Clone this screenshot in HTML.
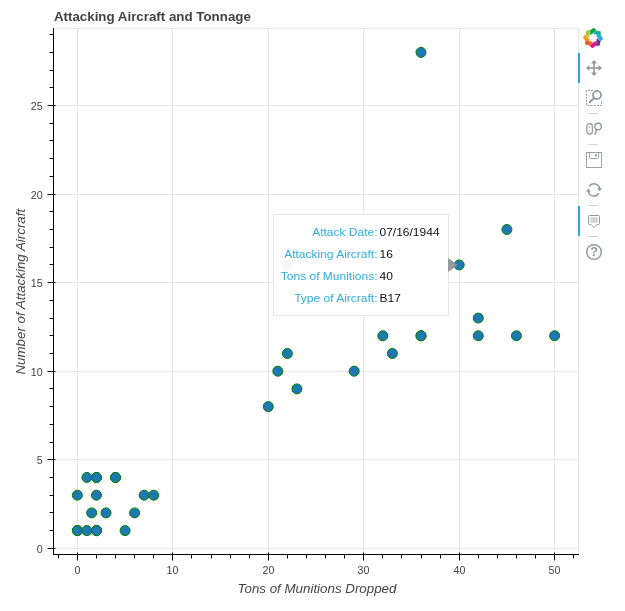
<!DOCTYPE html>
<html><head><meta charset="utf-8"><title>Attacking Aircraft and Tonnage</title>
<style>
html,body{margin:0;padding:0;background:#fff;}
body{width:625px;height:611px;position:relative;overflow:hidden;font-family:"Liberation Sans",Arial,sans-serif;}
svg{position:absolute;left:0;top:0;}
svg text{font-family:"Liberation Sans",Arial,sans-serif;}
.tt{position:absolute;left:273px;top:214px;width:174px;height:100px;border:1px solid #e5e5e5;background:#fff;opacity:.95;font-size:12px;color:#000;}
.tt .r{position:absolute;left:0;height:14px;line-height:14px;white-space:nowrap;transform:scale(1,0.89);transform-origin:0 3px;}
.tt .l{position:absolute;right:70.5px;color:#26aae1;text-align:right;white-space:nowrap;}
.tt .v{position:absolute;left:105.5px;white-space:nowrap;}
.tt:after{content:"";position:absolute;left:174px;top:43px;width:0;height:0;border-style:solid;border-width:7px 0 7px 10px;border-color:transparent transparent transparent #909599;}
</style></head><body>
<svg width="625" height="611" viewBox="0 0 625 611">

<rect x="53.5" y="28.5" width="525.0" height="526.0" fill="#fff" stroke="#e5e5e5" stroke-width="1"/>
<line x1="77.50" y1="28.5" x2="77.50" y2="554.5" stroke="#e5e5e5"/>
<line x1="172.50" y1="28.5" x2="172.50" y2="554.5" stroke="#e5e5e5"/>
<line x1="268.50" y1="28.5" x2="268.50" y2="554.5" stroke="#e5e5e5"/>
<line x1="363.50" y1="28.5" x2="363.50" y2="554.5" stroke="#e5e5e5"/>
<line x1="459.50" y1="28.5" x2="459.50" y2="554.5" stroke="#e5e5e5"/>
<line x1="554.50" y1="28.5" x2="554.50" y2="554.5" stroke="#e5e5e5"/>
<line x1="53.5" y1="548.50" x2="578.5" y2="548.50" stroke="#e5e5e5"/>
<line x1="53.5" y1="459.50" x2="578.5" y2="459.50" stroke="#e5e5e5"/>
<line x1="53.5" y1="371.50" x2="578.5" y2="371.50" stroke="#e5e5e5"/>
<line x1="53.5" y1="282.50" x2="578.5" y2="282.50" stroke="#e5e5e5"/>
<line x1="53.5" y1="194.50" x2="578.5" y2="194.50" stroke="#e5e5e5"/>
<line x1="53.5" y1="105.50" x2="578.5" y2="105.50" stroke="#e5e5e5"/>
<line x1="53.5" y1="28.0" x2="53.5" y2="555.0" stroke="#000"/>
<line x1="53.0" y1="554.5" x2="579.0" y2="554.5" stroke="#000"/>
<line x1="58.50" y1="554.5" x2="58.50" y2="558.5" stroke="#000"/>
<line x1="77.50" y1="552.5" x2="77.50" y2="560.5" stroke="#000"/>
<text x="77.50" y="573.6" font-size="10.67" fill="#444" text-anchor="middle">0</text>
<line x1="96.50" y1="554.5" x2="96.50" y2="558.5" stroke="#000"/>
<line x1="115.50" y1="554.5" x2="115.50" y2="558.5" stroke="#000"/>
<line x1="134.50" y1="554.5" x2="134.50" y2="558.5" stroke="#000"/>
<line x1="153.50" y1="554.5" x2="153.50" y2="558.5" stroke="#000"/>
<line x1="172.50" y1="552.5" x2="172.50" y2="560.5" stroke="#000"/>
<text x="172.50" y="573.6" font-size="10.67" fill="#444" text-anchor="middle">10</text>
<line x1="191.50" y1="554.5" x2="191.50" y2="558.5" stroke="#000"/>
<line x1="211.50" y1="554.5" x2="211.50" y2="558.5" stroke="#000"/>
<line x1="230.50" y1="554.5" x2="230.50" y2="558.5" stroke="#000"/>
<line x1="249.50" y1="554.5" x2="249.50" y2="558.5" stroke="#000"/>
<line x1="268.50" y1="552.5" x2="268.50" y2="560.5" stroke="#000"/>
<text x="268.50" y="573.6" font-size="10.67" fill="#444" text-anchor="middle">20</text>
<line x1="287.50" y1="554.5" x2="287.50" y2="558.5" stroke="#000"/>
<line x1="306.50" y1="554.5" x2="306.50" y2="558.5" stroke="#000"/>
<line x1="325.50" y1="554.5" x2="325.50" y2="558.5" stroke="#000"/>
<line x1="344.50" y1="554.5" x2="344.50" y2="558.5" stroke="#000"/>
<line x1="363.50" y1="552.5" x2="363.50" y2="560.5" stroke="#000"/>
<text x="363.50" y="573.6" font-size="10.67" fill="#444" text-anchor="middle">30</text>
<line x1="382.50" y1="554.5" x2="382.50" y2="558.5" stroke="#000"/>
<line x1="401.50" y1="554.5" x2="401.50" y2="558.5" stroke="#000"/>
<line x1="421.50" y1="554.5" x2="421.50" y2="558.5" stroke="#000"/>
<line x1="440.50" y1="554.5" x2="440.50" y2="558.5" stroke="#000"/>
<line x1="459.50" y1="552.5" x2="459.50" y2="560.5" stroke="#000"/>
<text x="459.50" y="573.6" font-size="10.67" fill="#444" text-anchor="middle">40</text>
<line x1="478.50" y1="554.5" x2="478.50" y2="558.5" stroke="#000"/>
<line x1="497.50" y1="554.5" x2="497.50" y2="558.5" stroke="#000"/>
<line x1="516.50" y1="554.5" x2="516.50" y2="558.5" stroke="#000"/>
<line x1="535.50" y1="554.5" x2="535.50" y2="558.5" stroke="#000"/>
<line x1="554.50" y1="552.5" x2="554.50" y2="560.5" stroke="#000"/>
<text x="554.50" y="573.6" font-size="10.67" fill="#444" text-anchor="middle">50</text>
<line x1="573.50" y1="554.5" x2="573.50" y2="558.5" stroke="#000"/>
<line x1="47.5" y1="548.50" x2="55.5" y2="548.50" stroke="#000"/>
<text x="42.6" y="553.10" font-size="10.67" fill="#444" text-anchor="end">0</text>
<line x1="49.5" y1="530.50" x2="53.5" y2="530.50" stroke="#000"/>
<line x1="49.5" y1="512.50" x2="53.5" y2="512.50" stroke="#000"/>
<line x1="49.5" y1="495.50" x2="53.5" y2="495.50" stroke="#000"/>
<line x1="49.5" y1="477.50" x2="53.5" y2="477.50" stroke="#000"/>
<line x1="47.5" y1="459.50" x2="55.5" y2="459.50" stroke="#000"/>
<text x="42.6" y="464.10" font-size="10.67" fill="#444" text-anchor="end">5</text>
<line x1="49.5" y1="442.50" x2="53.5" y2="442.50" stroke="#000"/>
<line x1="49.5" y1="424.50" x2="53.5" y2="424.50" stroke="#000"/>
<line x1="49.5" y1="406.50" x2="53.5" y2="406.50" stroke="#000"/>
<line x1="49.5" y1="388.50" x2="53.5" y2="388.50" stroke="#000"/>
<line x1="47.5" y1="371.50" x2="55.5" y2="371.50" stroke="#000"/>
<text x="42.6" y="376.10" font-size="10.67" fill="#444" text-anchor="end">10</text>
<line x1="49.5" y1="353.50" x2="53.5" y2="353.50" stroke="#000"/>
<line x1="49.5" y1="335.50" x2="53.5" y2="335.50" stroke="#000"/>
<line x1="49.5" y1="318.50" x2="53.5" y2="318.50" stroke="#000"/>
<line x1="49.5" y1="300.50" x2="53.5" y2="300.50" stroke="#000"/>
<line x1="47.5" y1="282.50" x2="55.5" y2="282.50" stroke="#000"/>
<text x="42.6" y="287.10" font-size="10.67" fill="#444" text-anchor="end">15</text>
<line x1="49.5" y1="264.50" x2="53.5" y2="264.50" stroke="#000"/>
<line x1="49.5" y1="247.50" x2="53.5" y2="247.50" stroke="#000"/>
<line x1="49.5" y1="229.50" x2="53.5" y2="229.50" stroke="#000"/>
<line x1="49.5" y1="211.50" x2="53.5" y2="211.50" stroke="#000"/>
<line x1="47.5" y1="194.50" x2="55.5" y2="194.50" stroke="#000"/>
<text x="42.6" y="199.10" font-size="10.67" fill="#444" text-anchor="end">20</text>
<line x1="49.5" y1="176.50" x2="53.5" y2="176.50" stroke="#000"/>
<line x1="49.5" y1="158.50" x2="53.5" y2="158.50" stroke="#000"/>
<line x1="49.5" y1="140.50" x2="53.5" y2="140.50" stroke="#000"/>
<line x1="49.5" y1="123.50" x2="53.5" y2="123.50" stroke="#000"/>
<line x1="47.5" y1="105.50" x2="55.5" y2="105.50" stroke="#000"/>
<text x="42.6" y="110.10" font-size="10.67" fill="#444" text-anchor="end">25</text>
<line x1="49.5" y1="87.50" x2="53.5" y2="87.50" stroke="#000"/>
<line x1="49.5" y1="70.50" x2="53.5" y2="70.50" stroke="#000"/>
<line x1="49.5" y1="52.50" x2="53.5" y2="52.50" stroke="#000"/>
<line x1="49.5" y1="34.50" x2="53.5" y2="34.50" stroke="#000"/>
<text x="53.9" y="21" font-size="13.33" font-weight="bold" fill="#444">Attacking Aircraft and Tonnage</text>
<text x="317" y="592.6" font-size="13.33" font-style="italic" fill="#444" text-anchor="middle">Tons of Munitions Dropped</text>
<text transform="translate(25.3,291.7) rotate(-90)" font-size="13.33" font-style="italic" fill="#444" text-anchor="middle">Number of Attacking Aircraft</text>
<circle cx="77.36" cy="530.59" r="5" fill="#1f77b4" stroke="#008000" stroke-width="1"/>
<circle cx="77.36" cy="530.59" r="5" fill="#1f77b4" stroke="#008000" stroke-width="1"/>
<circle cx="86.91" cy="530.59" r="5" fill="#1f77b4" stroke="#008000" stroke-width="1"/>
<circle cx="96.45" cy="530.59" r="5" fill="#1f77b4" stroke="#008000" stroke-width="1"/>
<circle cx="96.45" cy="530.59" r="5" fill="#1f77b4" stroke="#008000" stroke-width="1"/>
<circle cx="96.45" cy="530.59" r="5" fill="#1f77b4" stroke="#008000" stroke-width="1"/>
<circle cx="96.45" cy="477.46" r="5" fill="#1f77b4" stroke="#008000" stroke-width="1"/>
<circle cx="115.55" cy="477.46" r="5" fill="#1f77b4" stroke="#008000" stroke-width="1"/>
<circle cx="421.00" cy="335.78" r="5" fill="#1f77b4" stroke="#008000" stroke-width="1"/>
<circle cx="125.09" cy="530.59" r="5" fill="#1f77b4" stroke="#008000" stroke-width="1"/>
<circle cx="91.68" cy="512.88" r="5" fill="#1f77b4" stroke="#008000" stroke-width="1"/>
<circle cx="106.00" cy="512.88" r="5" fill="#1f77b4" stroke="#008000" stroke-width="1"/>
<circle cx="134.64" cy="512.88" r="5" fill="#1f77b4" stroke="#008000" stroke-width="1"/>
<circle cx="77.36" cy="495.17" r="5" fill="#1f77b4" stroke="#008000" stroke-width="1"/>
<circle cx="96.45" cy="495.17" r="5" fill="#1f77b4" stroke="#008000" stroke-width="1"/>
<circle cx="144.18" cy="495.17" r="5" fill="#1f77b4" stroke="#008000" stroke-width="1"/>
<circle cx="153.73" cy="495.17" r="5" fill="#1f77b4" stroke="#008000" stroke-width="1"/>
<circle cx="86.91" cy="477.46" r="5" fill="#1f77b4" stroke="#008000" stroke-width="1"/>
<circle cx="96.45" cy="477.46" r="5" fill="#1f77b4" stroke="#008000" stroke-width="1"/>
<circle cx="115.55" cy="477.46" r="5" fill="#1f77b4" stroke="#008000" stroke-width="1"/>
<circle cx="268.27" cy="406.62" r="5" fill="#1f77b4" stroke="#008000" stroke-width="1"/>
<circle cx="277.82" cy="371.20" r="5" fill="#1f77b4" stroke="#008000" stroke-width="1"/>
<circle cx="287.36" cy="353.49" r="5" fill="#1f77b4" stroke="#008000" stroke-width="1"/>
<circle cx="296.91" cy="388.91" r="5" fill="#1f77b4" stroke="#008000" stroke-width="1"/>
<circle cx="354.18" cy="371.20" r="5" fill="#1f77b4" stroke="#008000" stroke-width="1"/>
<circle cx="382.82" cy="335.78" r="5" fill="#1f77b4" stroke="#008000" stroke-width="1"/>
<circle cx="392.36" cy="353.49" r="5" fill="#1f77b4" stroke="#008000" stroke-width="1"/>
<circle cx="421.00" cy="335.78" r="5" fill="#1f77b4" stroke="#008000" stroke-width="1"/>
<circle cx="421.00" cy="52.41" r="5" fill="#1f77b4" stroke="#008000" stroke-width="1"/>
<circle cx="459.18" cy="264.93" r="5" fill="#1f77b4" stroke="#008000" stroke-width="1"/>
<circle cx="478.27" cy="335.78" r="5" fill="#1f77b4" stroke="#008000" stroke-width="1"/>
<circle cx="478.27" cy="318.07" r="5" fill="#1f77b4" stroke="#008000" stroke-width="1"/>
<circle cx="506.91" cy="229.51" r="5" fill="#1f77b4" stroke="#008000" stroke-width="1"/>
<circle cx="516.45" cy="335.78" r="5" fill="#1f77b4" stroke="#008000" stroke-width="1"/>
<circle cx="554.64" cy="335.78" r="5" fill="#1f77b4" stroke="#008000" stroke-width="1"/>
<circle cx="287.36" cy="264.93" r="5" fill="#1f77b4" stroke="#008000" stroke-width="1"/>
<g id="toolbar">
<rect x="578" y="53" width="2" height="30" fill="#26aae1"/><rect x="578" y="206" width="2" height="30" fill="#26aae1"/>
<line x1="588" y1="113.5" x2="598" y2="113.5" stroke="#d4d4d4"/>
<line x1="588" y1="144.5" x2="598" y2="144.5" stroke="#d4d4d4"/>
<line x1="588" y1="205.5" x2="598" y2="205.5" stroke="#d4d4d4"/>
<line x1="588" y1="236.5" x2="598" y2="236.5" stroke="#d4d4d4"/>
<g transform="translate(593,38)">
<polygon transform="rotate(315)" points="-2.9,-7.8 0.9,-10.15 3.45,-7.5 -2.3,-3.05 -2.9,-3.6" fill="#a5cd39"/>
<polygon transform="rotate(270)" points="-2.9,-7.8 0.9,-10.15 3.45,-7.5 -2.3,-3.05 -2.9,-3.6" fill="#f7971d"/>
<polygon transform="rotate(225)" points="-2.9,-7.8 0.9,-10.15 3.45,-7.5 -2.3,-3.05 -2.9,-3.6" fill="#f05a28"/>
<polygon transform="rotate(180)" points="-2.9,-7.8 0.9,-10.15 3.45,-7.5 -2.3,-3.05 -2.9,-3.6" fill="#e5117d"/>
<polygon transform="rotate(135)" points="-2.9,-7.8 0.9,-10.15 3.45,-7.5 -2.3,-3.05 -2.9,-3.6" fill="#7b2d8e"/>
<polygon transform="rotate(90)" points="-2.9,-7.8 0.9,-10.15 3.45,-7.5 -2.3,-3.05 -2.9,-3.6" fill="#29abe2"/>
<polygon transform="rotate(45)" points="-2.9,-7.8 0.9,-10.15 3.45,-7.5 -2.3,-3.05 -2.9,-3.6" fill="#19ab9f"/>
<polygon transform="rotate(0)" points="-2.9,-7.8 0.9,-10.15 3.45,-7.5 -2.3,-3.05 -2.9,-3.6" fill="#0ea14b"/>
</g>
<g transform="translate(594,68)" fill="#94999d" stroke="none"><rect x="-6" y="-0.8" width="12" height="1.6"/><rect x="-0.8" y="-6" width="1.6" height="12"/><polygon points="0,-8 3,-4.6 -3,-4.6"/><polygon points="0,8 3,4.6 -3,4.6"/><polygon points="-8,0 -4.6,-3 -4.6,3"/><polygon points="8,0 4.6,-3 4.6,3"/></g>
<g fill="none" stroke="#94999d"><path d="M593,90.5 H586.5 V105.5 H601.5 V101" stroke-width="1" stroke-dasharray="2,1.2"/><circle cx="597" cy="95" r="4.05" stroke-width="1.8"/><line x1="594" y1="98" x2="589.6" y2="102.2" stroke-width="2" stroke-linecap="round"/></g>
<g fill="none" stroke="#94999d"><rect x="586.8" y="123.6" width="5.6" height="10.6" rx="2.8" ry="3.4" stroke-width="1.3"/><path d="M588.7,127.9 L589.6,126.5 L590.5,127.9 Z M588.7,129.7 L589.6,131.1 L590.5,129.7 Z" fill="#94999d" stroke="none"/><circle cx="598.1" cy="126.5" r="3.25" stroke-width="1.35"/><line x1="596.7" y1="129.6" x2="594.9" y2="134.2" stroke-width="1.5" stroke-linecap="round"/></g>
<g fill="none" stroke="#94999d" stroke-width="0.9"><rect x="586.5" y="152.5" width="15" height="15"/><path d="M589.5,152.5 V157.5 Q589.5,158.5 590.5,158.5 H597.5 Q598.5,158.5 598.5,157.5 V152.5"/><rect x="595.2" y="154.2" width="1.6" height="2.6" fill="#94999d" stroke="none"/></g>
<g transform="translate(594,189.9)" fill="none" stroke="#94999d" stroke-width="1.5"><path d="M-4.9,-3.2 A5.6,5.6 0 0 1 5.6,-0.8"/><path d="M4.9,3.2 A5.6,5.6 0 0 1 -5.6,0.8"/><polygon points="3.4,-2 8,-1.6 5.6,1.6" fill="#94999d" stroke="none"/><polygon points="-3.4,2 -8,1.6 -5.6,-1.6" fill="#94999d" stroke="none"/></g>
<g><path d="M589.5,215.5 H598.5 Q599.5,215.5 599.5,216.5 V223.5 Q599.5,224.5 598.5,224.5 H597 L594,227.5 L591,224.5 H589.5 Q588.5,224.5 588.5,223.5 V216.5 Q588.5,215.5 589.5,215.5 Z" fill="none" stroke="#94999d" stroke-width="1"/><rect x="590.2" y="217.2" width="7.6" height="5.6" fill="#d1d3d5"/></g>
<g><circle cx="594" cy="252" r="7.3" fill="none" stroke="#94999d" stroke-width="1.4"/><text x="594" y="256.4" font-size="12.5" font-weight="bold" fill="#94999d" text-anchor="middle">?</text></g>
</g>
</svg>
<div class="tt">
<div class="r" style="top:10.5px;width:174px"><span class="l">Attack Date:</span><span class="v">07/16/1944</span></div>
<div class="r" style="top:32.5px;width:174px"><span class="l">Attacking Aircraft:</span><span class="v">16</span></div>
<div class="r" style="top:54.5px;width:174px"><span class="l">Tons of Munitions:</span><span class="v">40</span></div>
<div class="r" style="top:76.5px;width:174px"><span class="l">Type of Aircraft:</span><span class="v">B17</span></div>
</div>
</body></html>
